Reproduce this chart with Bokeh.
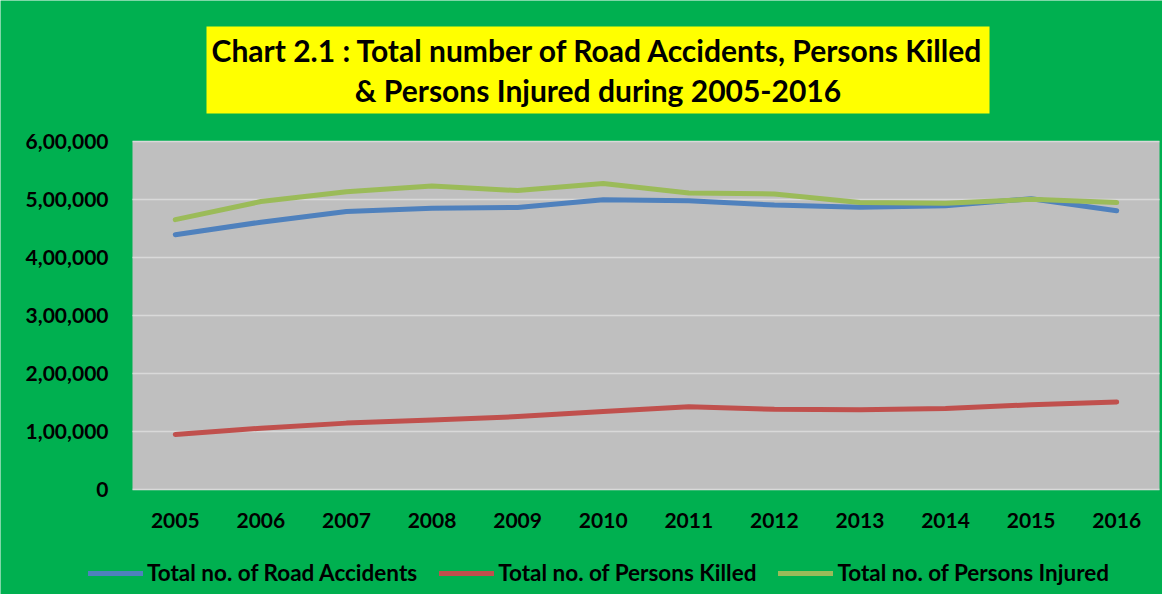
from bokeh.plotting import figure
from bokeh.models import Range1d, FixedTicker, Legend, LegendItem, Label, BoxAnnotation
from bokeh.embed import file_html
from bokeh.resources import INLINE

years = ["2005", "2006", "2007", "2008", "2009", "2010", "2011", "2012", "2013", "2014", "2015", "2016"]
accidents = [439255, 460920, 479216, 484704, 486384, 499628, 497686, 490383, 486476, 489400, 501423, 480652]
killed = [94968, 105749, 114444, 119860, 125660, 134513, 142485, 138258, 137572, 139671, 146133, 150785]
injured = [465282, 496481, 513340, 523193, 515458, 527512, 511394, 509667, 494893, 493474, 500279, 494624]
y_ticks = [0, 100000, 200000, 300000, 400000, 500000, 600000]
y_tick_labels = ["0", "1,00,000", "2,00,000", "3,00,000", "4,00,000", "5,00,000", "6,00,000"]
series_names = ["Total no. of Road Accidents", "Total no. of Persons Killed", "Total no. of Persons Injured"]
title_lines = ["Chart 2.1 : Total number of Road Accidents, Persons Killed",
               "& Persons Injured during 2005-2016"]

FONT = "Lato"
GREEN = "#00B050"
colors = ["#4F81BD", "#C0504D", "#9BBB59"]

W, H = 1162, 594
PL, PR, PT, PB = 132, 1159, 141, 489   # grey plot area in pixels
Y_MAX = 600000
n = len(years)

sx = (PR - PL) / n          # px per x unit
sy = (PB - PT) / Y_MAX      # px per y unit
def xdata(px):
    return -0.5 + (px - PL) / sx
def ydata(py):
    return (PB - py) / sy

xs = list(range(n))

p = figure(width=W, height=H, output_backend="svg", toolbar_location=None,
           x_range=Range1d(xdata(0), xdata(W)), y_range=Range1d(ydata(H), ydata(0)),
           min_border_left=0, min_border_right=0, min_border_top=0, min_border_bottom=0)
p.background_fill_color = GREEN
p.border_fill_color = GREEN
p.outline_line_color = None

# grey plot area
p.add_layout(BoxAnnotation(left=-0.5, right=n - 0.5, bottom=0, top=Y_MAX,
                           fill_color="#BFBFBF", fill_alpha=1, line_color=None, level="image"))

# horizontal gridlines limited to the plot area
p.xgrid.visible = False
p.ygrid.visible = False
p.segment(x0=[-0.5] * len(y_ticks), x1=[n - 0.5] * len(y_ticks), y0=y_ticks, y1=y_ticks,
          line_color="#D9D9D9", line_width=1.5)

p.xaxis.ticker = FixedTicker(ticks=xs)
p.xaxis.major_label_overrides = {i: y for i, y in zip(xs, years)}
p.xaxis.fixed_location = 0
p.yaxis.ticker = FixedTicker(ticks=y_ticks)
p.yaxis.major_label_overrides = {t: l for t, l in zip(y_ticks, y_tick_labels)}
p.yaxis.fixed_location = -0.5
for ax in (p.xaxis, p.yaxis):
    ax.axis_line_color = None
    ax.major_tick_line_color = None
    ax.minor_tick_line_color = None
    ax.major_label_text_font = FONT
    ax.major_label_text_font_style = "bold"
    ax.major_label_text_font_size = "21px"
    ax.major_label_text_color = "black"
p.xaxis.major_label_standoff = 17
p.yaxis.major_label_standoff = 18

renderers = []
for vals, c in zip([accidents, killed, injured], colors):
    r = p.line(xs, vals, line_color=c, line_width=5, line_cap="round", line_join="round")
    renderers.append(r)

# title box
p.add_layout(BoxAnnotation(left=xdata(206), right=xdata(989), bottom=ydata(113), top=ydata(26),
                           fill_color="#FFFF00", fill_alpha=1, line_color=None))
for line, py in zip(title_lines, [49, 89]):
    p.add_layout(Label(x=xdata(597.5), y=ydata(py), text=line, text_align="center",
                       text_baseline="middle", text_font=FONT, text_font_style="bold",
                       text_font_size="30px", text_color="black"))

legend = Legend(items=[LegendItem(label=nm, renderers=[r]) for nm, r in zip(series_names, renderers)],
                orientation="horizontal", location=(88, 8),
                background_fill_alpha=0, border_line_alpha=0,
                label_text_font=FONT, label_text_font_style="bold", label_text_font_size="22.5px",
                label_text_color="black",
                glyph_width=55, glyph_height=20, label_standoff=4, spacing=22,
                padding=0, margin=0)
p.add_layout(legend, "center")

open("out.html", "w").write(file_html(p, INLINE))
